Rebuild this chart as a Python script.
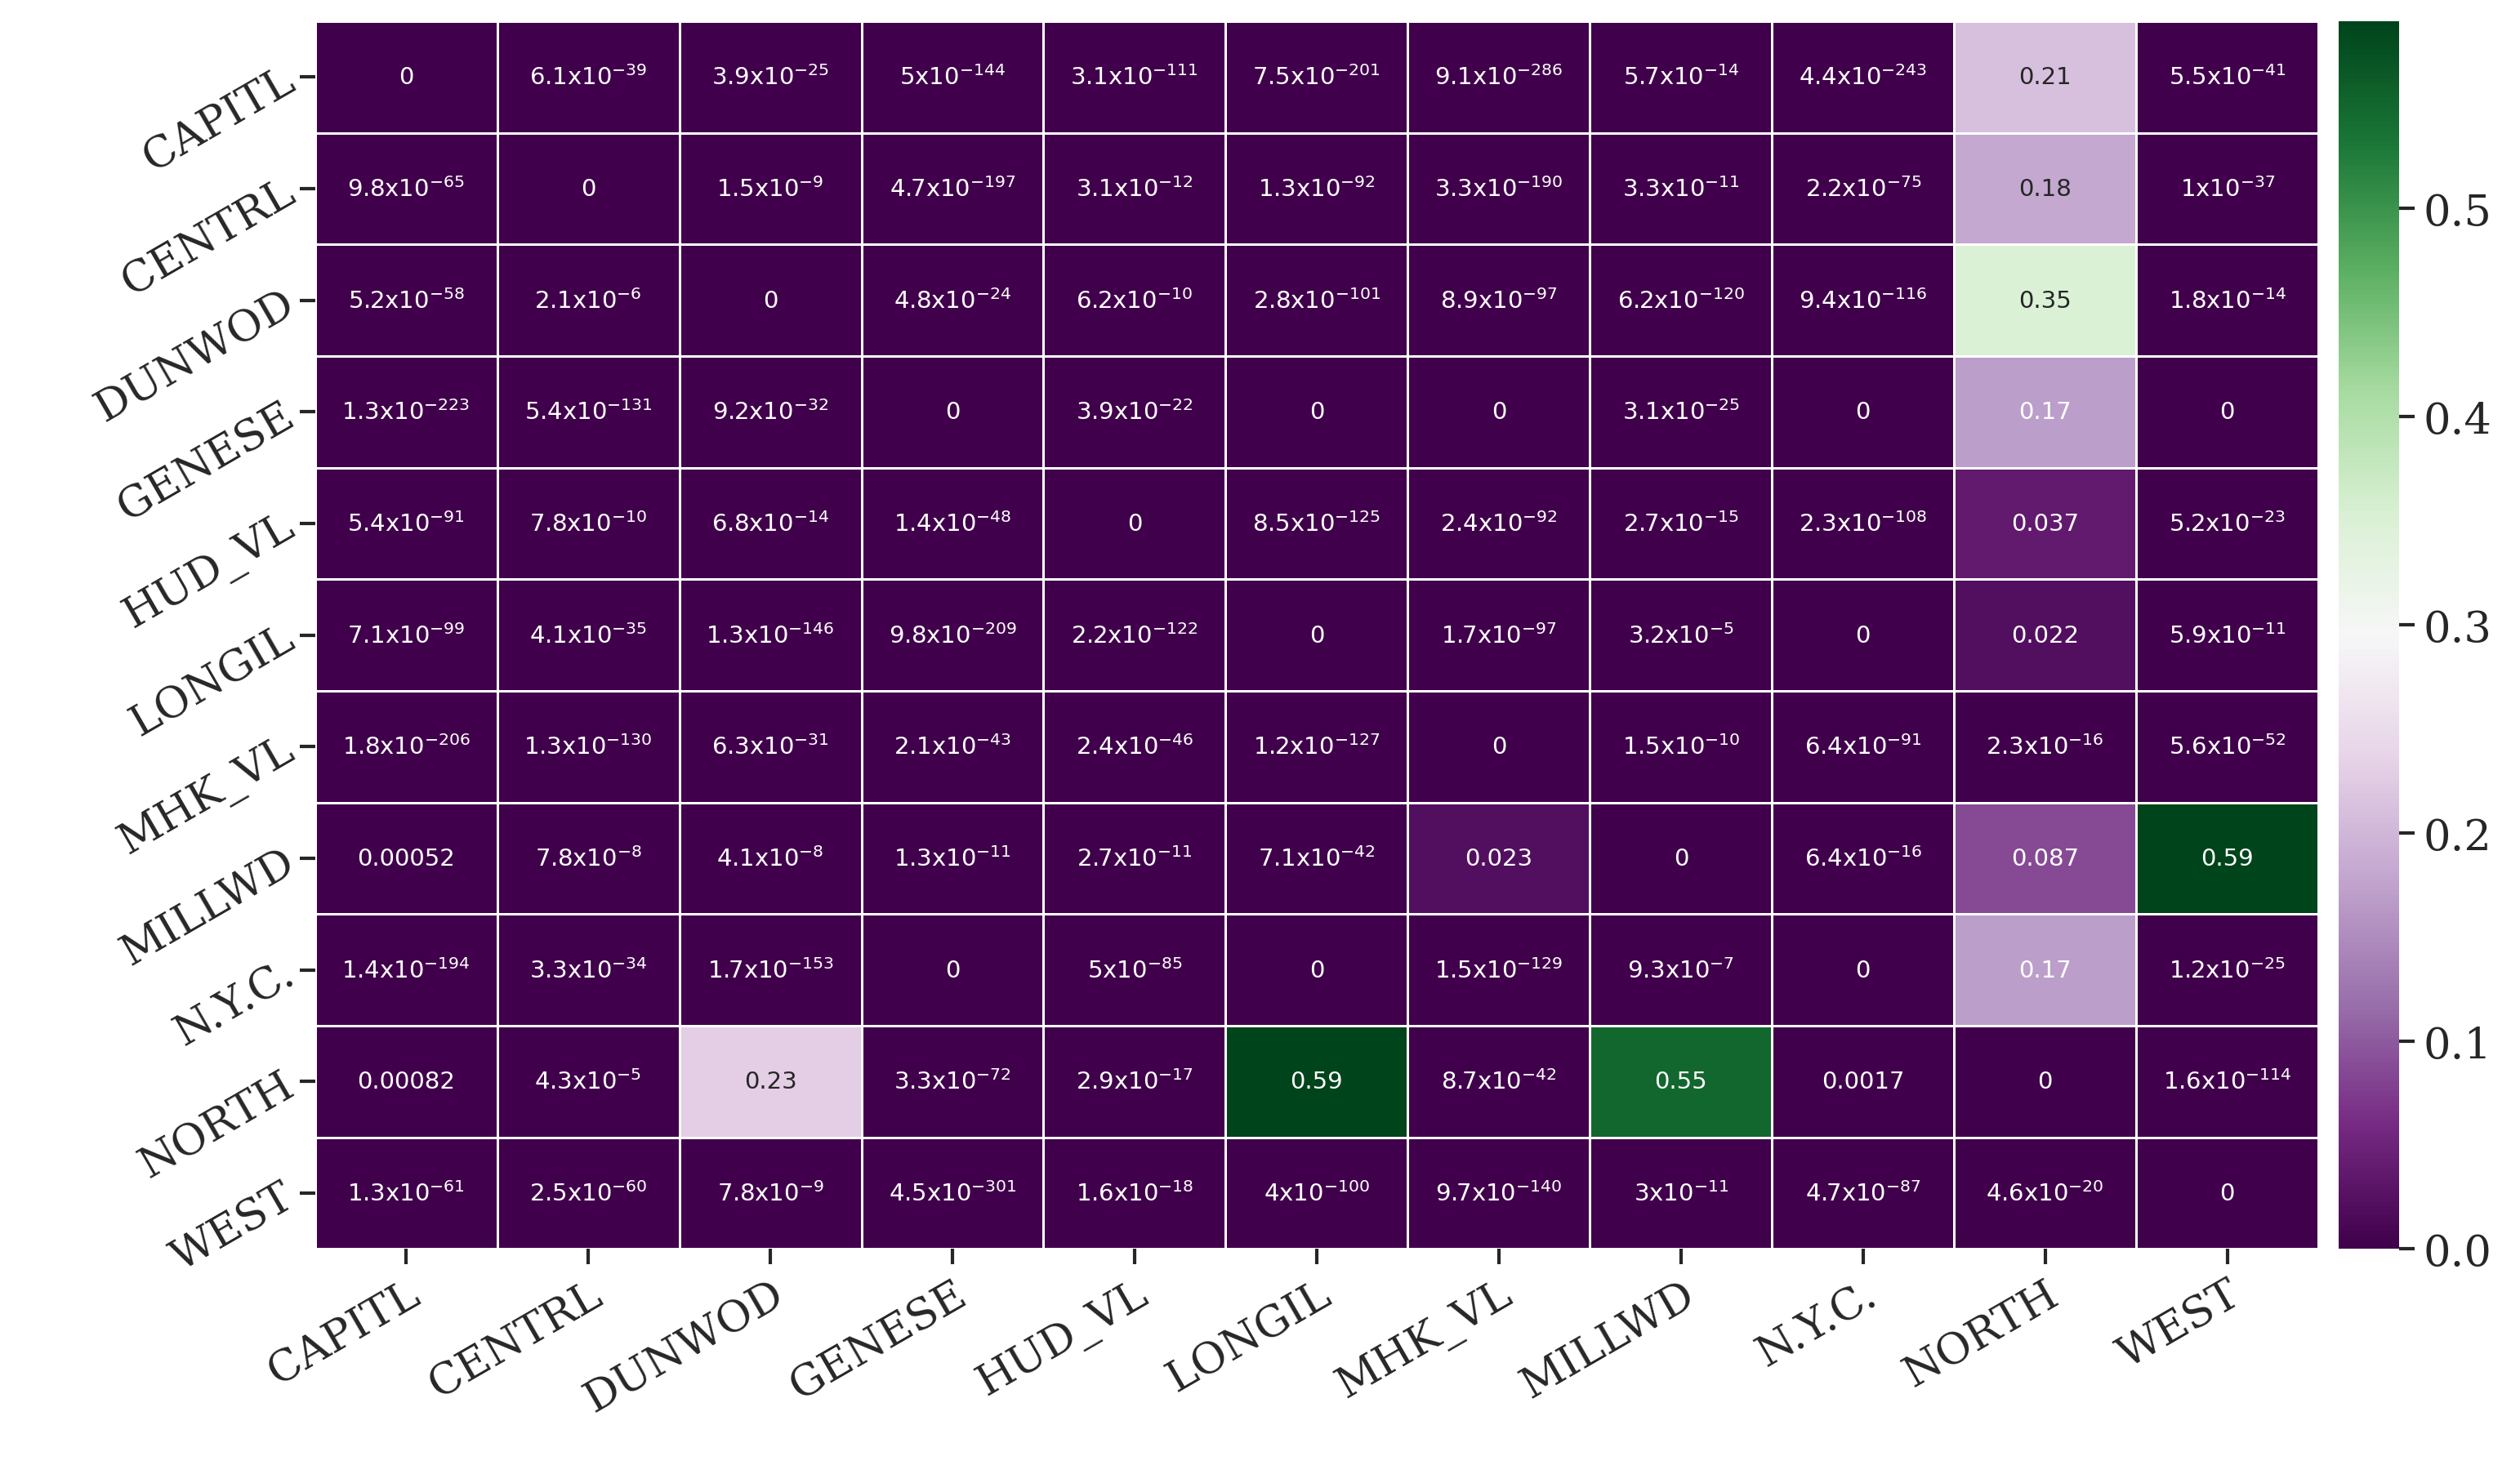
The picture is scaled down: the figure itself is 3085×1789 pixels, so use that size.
import numpy as np, pandas as pd, seaborn as sns, matplotlib
matplotlib.use("Agg")
import matplotlib.pyplot as plt

zones = ["CAPITL","CENTRL","DUNWOD","GENESE","HUD_VL","LONGIL","MHK_VL","MILLWD","N.Y.C.","NORTH","WEST"]
rows = [
 ["0","6.1e-39","3.9e-25","5e-144","3.1e-111","7.5e-201","9.1e-286","5.7e-14","4.4e-243","0.21","5.5e-41"],
 ["9.8e-65","0","1.5e-9","4.7e-197","3.1e-12","1.3e-92","3.3e-190","3.3e-11","2.2e-75","0.18","1e-37"],
 ["5.2e-58","2.1e-6","0","4.8e-24","6.2e-10","2.8e-101","8.9e-97","6.2e-120","9.4e-116","0.35","1.8e-14"],
 ["1.3e-223","5.4e-131","9.2e-32","0","3.9e-22","0","0","3.1e-25","0","0.17","0"],
 ["5.4e-91","7.8e-10","6.8e-14","1.4e-48","0","8.5e-125","2.4e-92","2.7e-15","2.3e-108","0.037","5.2e-23"],
 ["7.1e-99","4.1e-35","1.3e-146","9.8e-209","2.2e-122","0","1.7e-97","3.2e-5","0","0.022","5.9e-11"],
 ["1.8e-206","1.3e-130","6.3e-31","2.1e-43","2.4e-46","1.2e-127","0","1.5e-10","6.4e-91","2.3e-16","5.6e-52"],
 ["0.00052","7.8e-8","4.1e-8","1.3e-11","2.7e-11","7.1e-42","0.023","0","6.4e-16","0.087","0.59"],
 ["1.4e-194","3.3e-34","1.7e-153","0","5e-85","0","1.5e-129","9.3e-7","0","0.17","1.2e-25"],
 ["0.00082","4.3e-5","0.23","3.3e-72","2.9e-17","0.59","8.7e-42","0.55","0.0017","0","1.6e-114"],
 ["1.3e-61","2.5e-60","7.8e-9","4.5e-301","1.6e-18","4e-100","9.7e-140","3e-11","4.7e-87","4.6e-20","0"],
]

def fmt(s):
    if "e" in s:
        m, e = s.split("e")
        return m + "x10$^{" + e + "}$"
    return s

vals = pd.DataFrame([[float(s) for s in r] for r in rows], index=zones, columns=zones)
labels = np.array([[fmt(s) for s in r] for r in rows])

sns.set_style("ticks")
fig = plt.figure(figsize=(15.425, 8.95), dpi=200)
ax = fig.add_axes([0.125, 0.145, 0.795, 0.84])
cax = fig.add_axes([0.928, 0.145, 0.024, 0.84])
sns.heatmap(vals, ax=ax, cbar_ax=cax, cmap="PRGn", vmin=0, vmax=0.59,
            annot=labels, fmt="", annot_kws={"fontsize": 10.5, "family": "DejaVu Sans"},
            linewidths=1, linecolor="white")
serif = "DejaVu Serif"
ax.set_xticklabels(zones, rotation=30, ha="right", rotation_mode="anchor", fontsize=19, family=serif)
ax.set_yticklabels(zones, rotation=30, ha="right", rotation_mode="anchor", fontsize=19, family=serif)
ax.tick_params(length=7, width=1.5)
cax.tick_params(labelsize=19, length=7, width=1.5)
for t in cax.get_yticklabels():
    t.set_family(serif)
ax.set_xlabel(""); ax.set_ylabel("")
fig.savefig("out.png", dpi=200)
